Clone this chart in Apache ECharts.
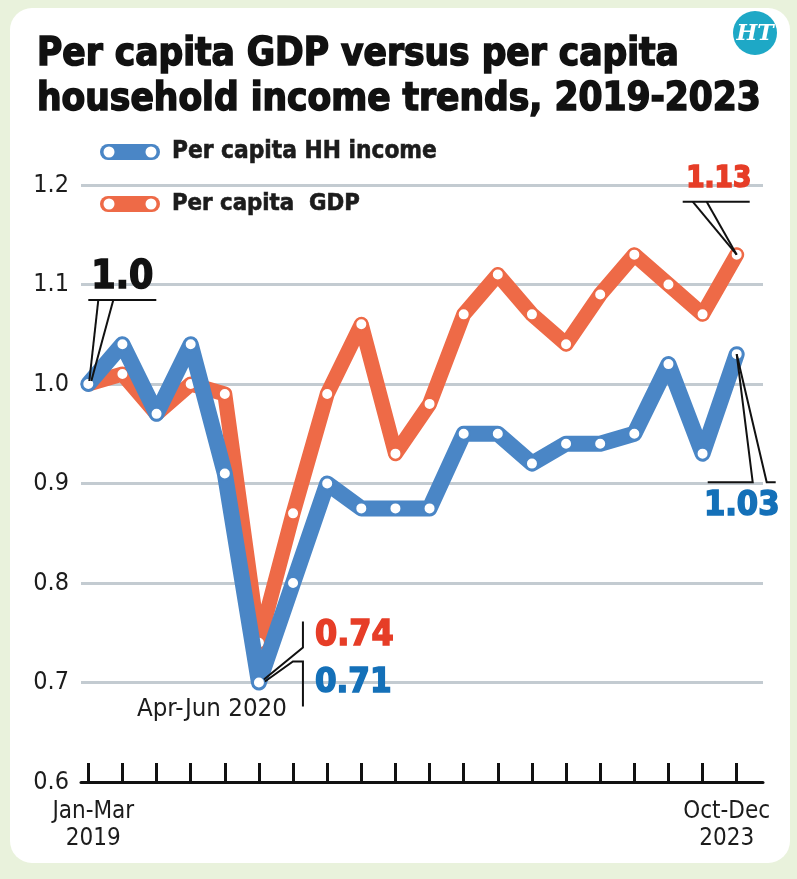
<!DOCTYPE html>
<html>
<head>
<meta charset="utf-8">
<script src="https://cdn.jsdelivr.net/npm/echarts@6/dist/echarts.min.js"></script>
<style>
html, body { margin: 0; padding: 0; background: #e9f2dc; }
#chart { width: 797px; height: 879px; }
</style>
</head>
<body>
<div id="chart"></div>
<script>
// quarters, Jan-Mar 2019 .. Oct-Dec 2023
var quarters = [
  'Jan-Mar 2019', 'Apr-Jun 2019', 'Jul-Sep 2019', 'Oct-Dec 2019',
  'Jan-Mar 2020', 'Apr-Jun 2020', 'Jul-Sep 2020', 'Oct-Dec 2020',
  'Jan-Mar 2021', 'Apr-Jun 2021', 'Jul-Sep 2021', 'Oct-Dec 2021',
  'Jan-Mar 2022', 'Apr-Jun 2022', 'Jul-Sep 2022', 'Oct-Dec 2022',
  'Jan-Mar 2023', 'Apr-Jun 2023', 'Jul-Sep 2023', 'Oct-Dec 2023'
];
var hhIncome = [1.0, 1.04, 0.97, 1.04, 0.91, 0.70, 0.80, 0.90, 0.875, 0.875,
                0.875, 0.95, 0.95, 0.92, 0.94, 0.94, 0.95, 1.02, 0.93, 1.03];
var gdp = [1.0, 1.01, 0.97, 1.0, 0.99, 0.74, 0.87, 0.99, 1.06, 0.93,
           0.98, 1.07, 1.11, 1.07, 1.04, 1.09, 1.13, 1.10, 1.07, 1.13];
var yMin = 0.6, yMax = 1.2, yStep = 0.1;

var BLUE = '#4a86c6', ORANGE = '#ee6a47';
var RED_TXT = '#e63d27', BLUE_TXT = '#1470b8', INK = '#1c1c1c';
var COND = "'Liberation Sans Narrow', 'DejaVu Sans Condensed', sans-serif";

var ctx2d = document.createElement('canvas').getContext('2d');
function fitSize(text, weight, width) {
  ctx2d.font = weight + ' 100px ' + COND;
  return 100 * width / ctx2d.measureText(text).width;
}

var chart = echarts.init(document.getElementById('chart'));

chart.setOption({
  backgroundColor: '#e9f2dc',
  animation: false,
  grid: [
    { left: 81, right: 34, top: 185, bottom: 97 },
    { left: 88.3, right: 60.3, top: 185, bottom: 97 }
  ],
  xAxis: [
    {
      gridIndex: 0, type: 'value', min: 0, max: 1,
      axisLine: { show: true, onZero: false, lineStyle: { color: '#111', width: 3 } },
      axisTick: { show: false }, axisLabel: { show: false }, splitLine: { show: false }
    },
    {
      gridIndex: 1, type: 'category', data: quarters, boundaryGap: false,
      axisLine: { show: false },
      axisTick: { show: true, inside: true, length: 19, interval: 0,
                  lineStyle: { color: '#111', width: 3 } },
      axisLabel: {
        interval: function (i) { return i === 0 || i === quarters.length - 1; },
        formatter: function (v, i) {
          var parts = v.split(' ');
          var k = i === 0 ? 'a' : 'b';
          return '{' + k + '|' + parts[0] + '}\n{' + k + '|' + parts[1] + '}';
        },
        rich: {
          a: { fontFamily: COND, fontSize: 24, color: INK, lineHeight: 27, padding: [0, 0, 0, 10] },
          b: { fontFamily: COND, fontSize: 24, color: INK, lineHeight: 27, padding: [0, 20, 0, 0] }
        },
        margin: 16
      },
      splitLine: { show: false }
    }
  ],
  yAxis: [
    {
      gridIndex: 0, type: 'value', min: yMin, max: yMax, interval: yStep,
      axisLine: { show: false }, axisTick: { show: false },
      axisLabel: { formatter: function (v) { return v.toFixed(1); },
                   fontFamily: COND, fontSize: 25, color: INK, margin: 12 },
      splitLine: { lineStyle: { color: '#c3cbd1', width: 3 } }
    },
    {
      gridIndex: 1, type: 'value', min: yMin, max: yMax, show: false,
      splitLine: { show: false }
    }
  ],
  series: [
    {
      name: 'Per capita  GDP', type: 'line', xAxisIndex: 1, yAxisIndex: 1,
      data: gdp, symbol: 'circle', symbolSize: 12, showAllSymbol: true,
      lineStyle: { color: ORANGE, width: 15, join: 'round', cap: 'round' },
      itemStyle: { color: '#fff', borderColor: ORANGE, borderWidth: 2 },
      emphasis: { disabled: true }, z: 3
    },
    {
      name: 'Per capita HH income', type: 'line', xAxisIndex: 1, yAxisIndex: 1,
      data: hhIncome, symbol: 'circle', symbolSize: 12, showAllSymbol: true,
      lineStyle: { color: BLUE, width: 16, join: 'round', cap: 'round' },
      itemStyle: { color: '#fff', borderColor: BLUE, borderWidth: 2 },
      emphasis: { disabled: true }, z: 4
    }
  ]
});

function px(i, arr) {
  return chart.convertToPixel({ xAxisIndex: 1, yAxisIndex: 1 }, [i, arr[i]]);
}
function seg(pts) {
  return { type: 'polyline', z: 20, shape: { points: pts },
           style: { stroke: '#111', lineWidth: 2, fill: null } };
}
function label(text, x, y, size, color, align, weight, heavy) {
  var st = { text: text, font: (weight || 'bold') + ' ' + size + 'px ' + COND,
             fill: color, align: align || 'left', verticalAlign: 'middle' };
  if (heavy) { st.stroke = color; st.lineWidth = heavy; }
  return { type: 'text', z: 20, x: x, y: y, style: st };
}
function legendItem(y, color, text, w) {
  return [
    { type: 'rect', z: 20, shape: { x: 100, y: y - 8, width: 60, height: 16, r: 8 }, style: { fill: color } },
    { type: 'circle', z: 21, shape: { cx: 109, cy: y, r: 5.5 }, style: { fill: '#fff' } },
    { type: 'circle', z: 21, shape: { cx: 151, cy: y, r: 5.5 }, style: { fill: '#fff' } },
    label(text, 172, y, Math.min(30, fitSize(text, 'bold', w)), INK, 'left', 'bold', 0.6)
  ];
}

var title1 = 'Per capita GDP versus per capita';
var title2 = 'household income trends, 2019-2023';
var tSize = Math.min(54, fitSize(title2, 'bold', 724));

var p0 = px(0, hhIncome);
var g19 = px(19, gdp);
var h19 = px(19, hhIncome);
var m = px(5, hhIncome);

var graphics = [
  { type: 'rect', z: -10, shape: { x: 10, y: 8, width: 780, height: 855, r: 22 }, style: { fill: '#fff' } },
  { type: 'circle', z: 20, shape: { cx: 755, cy: 33, r: 22 }, style: { fill: '#1ea8c6' } },
  { type: 'text', z: 21, x: 755, y: 34,
    style: { text: 'HT', font: 'italic bold 22px "DejaVu Serif", serif', fill: '#fff',
             align: 'center', verticalAlign: 'middle' } },
  label(title1, 37, 55, tSize, '#111', 'left', 'bold', 1.5),
  label(title2, 37, 100, tSize, '#111', 'left', 'bold', 1.5),

  // start value
  label('1.0', p0[0] + 3, p0[1] - 106, fitSize('1.0', 'bold', 62), '#111', 'left', 'bold', 1.5),
  seg([[p0[0], p0[1] - 84], [p0[0] + 68, p0[1] - 84]]),
  seg([[p0[0] + 10, p0[1] - 84], [p0[0] + 1, p0[1] - 3]]),
  seg([[p0[0] + 25, p0[1] - 84], [p0[0] + 3, p0[1] - 3]]),

  // end GDP
  label('1.13', g19[0] - 18, g19[1] - 75, fitSize('1.13', 'bold', 62) * 1.05, RED_TXT, 'center', 'bold', 1.5),
  seg([[g19[0] - 54, g19[1] - 53], [g19[0] + 13, g19[1] - 53]]),
  seg([[g19[0] - 44, g19[1] - 53], [g19[0], g19[1]]]),
  seg([[g19[0] - 30, g19[1] - 53], [g19[0], g19[1]]]),

  // end HH income
  label('1.03', h19[0] + 5, h19[1] + 152, fitSize('1.03', 'bold', 72) * 1.05, BLUE_TXT, 'center', 'bold', 1.5),
  seg([[h19[0] - 29, h19[1] + 128], [h19[0] + 16, h19[1] + 128], [h19[0], h19[1]]]),
  seg([[h19[0] + 39, h19[1] + 128], [h19[0] + 30, h19[1] + 128], [h19[0], h19[1]]]),

  // trough
  label('0.74', m[0] + 56, m[1] - 47, fitSize('0.74', 'bold', 75) * 1.05, RED_TXT, 'left', 'bold', 1.5),
  label('0.71', m[0] + 56, m[1] + 1, fitSize('0.71', 'bold', 73) * 1.05, BLUE_TXT, 'left', 'bold', 1.5),
  seg([[m[0] + 44, m[1] - 61], [m[0] + 44, m[1] - 35], [m[0] + 5, m[1] - 3]]),
  seg([[m[0] + 6, m[1] - 1], [m[0] + 34, m[1] - 21], [m[0] + 44, m[1] - 21], [m[0] + 44, m[1] + 24]]),
  label('Apr-Jun 2020', m[0] - 47, m[1] + 27, fitSize('Apr-Jun 2020', 'normal', 150), INK, 'center', 'normal')
]
  .concat(legendItem(152, BLUE, 'Per capita HH income', 265))
  .concat(legendItem(204, ORANGE, 'Per capita  GDP', 188));

chart.setOption({ graphic: graphics });
</script>
</body>
</html>
